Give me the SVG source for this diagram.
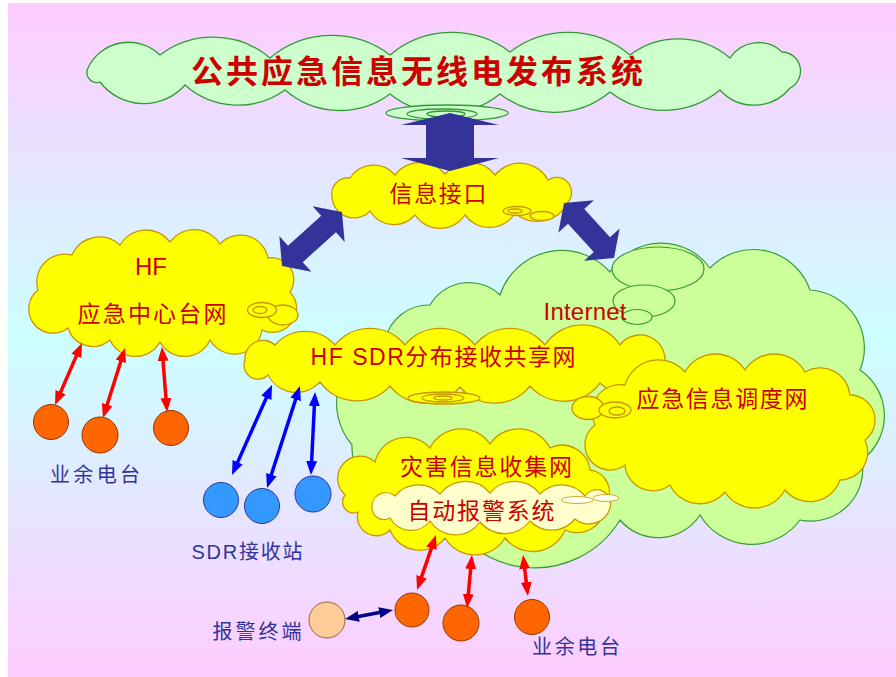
<svg xmlns="http://www.w3.org/2000/svg" width="896" height="677" viewBox="0 0 896 677">
<defs>
<linearGradient id="bg" x1="0" y1="0" x2="0" y2="1">
<stop offset="0" stop-color="#ffccff"/>
<stop offset="0.5" stop-color="#ccffff"/>
<stop offset="1" stop-color="#ffccff"/>
</linearGradient>
<marker id="mr" markerUnits="userSpaceOnUse" viewBox="0 0 14 11" markerWidth="14" markerHeight="11" refX="7" refY="5.5" orient="auto-start-reverse"><path d="M0,0 L14,5.5 L0,11 Z" fill="#ff0000"/></marker>
<marker id="mb" markerUnits="userSpaceOnUse" viewBox="0 0 14 11" markerWidth="14" markerHeight="11" refX="7" refY="5.5" orient="auto-start-reverse"><path d="M0,0 L14,5.5 L0,11 Z" fill="#0000ff"/></marker>
<marker id="mn" markerUnits="userSpaceOnUse" viewBox="0 0 14 11" markerWidth="14" markerHeight="11" refX="7" refY="5.5" orient="auto-start-reverse"><path d="M0,0 L14,5.5 L0,11 Z" fill="#000080"/></marker>
</defs>
<style>
.cy{fill:#ffff00;stroke:#c89600;stroke-width:1.3}
.cg{fill:#ccffcc;stroke:#339933;stroke-width:1.3}
.ci{fill:#ccff99;stroke:#3c9a3c;stroke-width:1.2}
.cl{fill:#ffffcc;stroke:#c89600;stroke-width:1.2}
.t{font-family:"Liberation Sans","Noto Sans CJK SC",sans-serif;fill:#cc0000;text-anchor:middle;font-size:23px}
.lb{font-family:"Liberation Sans","Noto Sans CJK SC",sans-serif;fill:#333399;text-anchor:middle;font-size:20px}
.big{fill:#333399}
.ar{fill:none;stroke-width:3.5}
.or{fill:#ff6600;stroke:#993300;stroke-width:1}
.bl{fill:#3399ff;stroke:#333399;stroke-width:1}
.pe{fill:#ffcc99;stroke:#996633;stroke-width:1}
</style>
<rect x="0" y="0" width="896" height="677" fill="#ffffff"/>
<rect x="8" y="3" width="888" height="674" fill="url(#bg)"/>

<g id="top-system">
<path class="cg" d="M88,68 A45,45 0 0 1 160,55 A88,88 0 0 1 270,58 A96,96 0 0 1 390,55 A96,96 0 0 1 510,52 A96,96 0 0 1 630,55 A80,80 0 0 1 730,58 A34,34 0 0 1 782,52 A19,19 0 0 1 790,88 A46,46 0 0 1 720,90 A88,88 0 0 1 610,92 A88,88 0 0 1 500,94 A88,88 0 0 1 390,94 A84,84 0 0 1 285,90 A80,80 0 0 1 185,85 A55,55 0 0 1 100,82 A10,10 0 0 1 88,68 Z"/>
<ellipse class="cg" cx="447" cy="113" rx="61" ry="8"/>
<ellipse class="cg" cx="442" cy="114" rx="35" ry="5"/>
<ellipse class="cg" cx="446" cy="114" rx="19" ry="3"/>
<text class="t" x="417" y="83" style="font-size:32px;font-weight:bold" textLength="452" lengthAdjust="spacing">公共应急信息无线电发布系统</text>
</g>

<g id="info-interface">
<path class="cy" d="M332,196 A16,16 0 0 1 350,178 A28,28 0 0 1 395,175 A32,32 0 0 1 445,174 A32,32 0 0 1 495,175 A32,32 0 0 1 548,180 A15,15 0 0 1 568,202 A34,34 0 0 1 515,213 A30,30 0 0 1 465,215 A30,30 0 0 1 415,215 A28,28 0 0 1 370,211 A22,22 0 0 1 332,196 Z"/>
<ellipse class="cy" cx="542" cy="216" rx="12" ry="4.5"/>
<ellipse class="cy" cx="517" cy="211" rx="14" ry="4.5"/>
<ellipse class="cy" cx="515" cy="211" rx="7" ry="2"/>
<text class="t" x="438" y="202" textLength="97" lengthAdjust="spacing">信息接口</text>
</g>

<g id="hf-center">
<path class="cy" d="M38,290 A28,28 0 0 1 72,255 A30,30 0 0 1 120,245 A30,30 0 0 1 170,242 A30,30 0 0 1 220,244 A28,28 0 0 1 268,258 A22,22 0 0 1 290,292 A24,24 0 0 1 262,330 A28,28 0 0 1 210,340 A28,28 0 0 1 160,342 A28,28 0 0 1 110,340 A26,26 0 0 1 68,328 A24,24 0 0 1 38,290 Z"/>
<ellipse class="cy" cx="283" cy="315" rx="15" ry="10"/>
<ellipse class="cy" cx="262" cy="310" rx="14.5" ry="7.5"/>
<ellipse class="cy" cx="260" cy="310" rx="7" ry="3.5"/>
<text class="t" x="151" y="275" style="font-size:24px">HF</text>
<text class="t" x="152" y="322" textLength="149" lengthAdjust="spacing">应急中心台网</text>
</g>

<g id="internet">
<path class="ci" d="M352,445 A65,65 0 0 1 385,340 A45,45 0 0 1 430,305 A45,45 0 0 1 500,295 A65,65 0 0 1 610,272 A60,60 0 0 1 710,268 A60,60 0 0 1 810,290 A58,58 0 0 1 860,370 A55,55 0 0 1 862,460 A52,52 0 0 1 800,520 A60,60 0 0 1 700,515 A50,50 0 0 1 620,520 A100,100 0 0 1 440,500 A60,60 0 0 1 352,445 Z"/>
<ellipse class="ci" cx="658" cy="269" rx="46" ry="22"/>
<ellipse class="ci" cx="644" cy="301" rx="31" ry="16"/>
<ellipse class="ci" cx="637" cy="317" rx="15" ry="7.5"/>
<text class="t" x="585" y="320" style="font-size:24px" textLength="83" lengthAdjust="spacing">Internet</text>
</g>

<g id="hf-sdr">
<path class="cy" d="M245,360 A18,18 0 0 1 275,345 A40,40 0 0 1 335,345 A45,45 0 0 1 405,345 A45,45 0 0 1 475,345 A45,45 0 0 1 545,345 A45,45 0 0 1 620,345 A25,25 0 0 1 660,375 A38,38 0 0 1 600,383 A45,45 0 0 1 530,386 A45,45 0 0 1 460,387 A45,45 0 0 1 390,386 A45,45 0 0 1 320,382 A32,32 0 0 1 268,375 A14,14 0 0 1 245,360 Z"/>
<ellipse class="cy" cx="444" cy="398" rx="36" ry="6"/>
<ellipse class="cy" cx="443" cy="398" rx="21" ry="4"/>
<ellipse class="cy" cx="443" cy="398" rx="9" ry="2"/>
<text class="t" x="443" y="365" textLength="265" lengthAdjust="spacing">HF SDR分布接收共享网</text>
</g>

<g id="dispatch">
<path class="cy" d="M595,425 A28,28 0 0 1 625,385 A35,35 0 0 1 685,372 A35,35 0 0 1 745,370 A35,35 0 0 1 805,372 A30,30 0 0 1 850,395 A25,25 0 0 1 865,440 A28,28 0 0 1 840,480 A32,32 0 0 1 785,490 A35,35 0 0 1 725,492 A33,33 0 0 1 670,485 A28,28 0 0 1 625,465 A25,25 0 0 1 595,425 Z"/>
<ellipse class="cy" cx="588" cy="408" rx="16" ry="11.5"/>
<ellipse class="cy" cx="615" cy="410" rx="16" ry="8"/>
<ellipse class="cy" cx="617" cy="411" rx="8" ry="4"/>
<text class="t" x="722" y="407" textLength="171" lengthAdjust="spacing">应急信息调度网</text>
</g>

<g id="disaster">
<path class="cy" d="M345,495 A20,20 0 0 1 375,462 A32,32 0 0 1 430,448 A35,35 0 0 1 490,444 A35,35 0 0 1 550,448 A28,28 0 0 1 590,470 A22,22 0 0 1 605,505 A28,28 0 0 1 565,530 A35,35 0 0 1 505,538 A35,35 0 0 1 445,538 A32,32 0 0 1 390,530 A19,19 0 0 1 358,512 A11,11 0 0 1 345,495 Z"/>
<text class="t" x="486" y="475" textLength="172" lengthAdjust="spacing">灾害信息收集网</text>
</g>

<g id="alarm-system">
<path class="cl" d="M372,508 A14,14 0 0 1 395,496 A30,30 0 0 1 440,494 A32,32 0 0 1 490,493 A32,32 0 0 1 540,494 A30,30 0 0 1 585,496 A14,14 0 0 1 610,508 A22,22 0 0 1 575,519 A30,30 0 0 1 530,521 A32,32 0 0 1 480,522 A30,30 0 0 1 430,521 A24,24 0 0 1 390,518 A12,12 0 0 1 372,508 Z"/>
<ellipse cx="577" cy="500" rx="16" ry="3.5" fill="#fffff0" stroke="#c89600" stroke-width="0.8"/>
<ellipse cx="606" cy="498" rx="13" ry="3.5" fill="#fffff0" stroke="#c89600" stroke-width="0.8"/>
<text class="t" x="481" y="519" textLength="147" lengthAdjust="spacing">自动报警系统</text>
</g>

<g id="amateur-left">
<circle class="or" cx="51" cy="422" r="17.5"/>
<circle class="or" cx="100" cy="435" r="18"/>
<circle class="or" cx="171" cy="428" r="17.5"/>
<text class="lb" x="95" y="482" textLength="90" lengthAdjust="spacing">业余电台</text>
</g>

<g id="sdr-stations">
<circle class="bl" cx="221" cy="500" r="17.5"/>
<circle class="bl" cx="262" cy="506" r="17.5"/>
<circle class="bl" cx="313" cy="494" r="18"/>
<text class="lb" x="247" y="559" textLength="111" lengthAdjust="spacing">SDR接收站</text>
</g>

<g id="alarm-terminal">
<circle class="pe" cx="327" cy="620" r="18"/>
<text class="lb" x="257" y="639" textLength="89" lengthAdjust="spacing">报警终端</text>
</g>

<g id="amateur-bottom">
<circle class="or" cx="412" cy="610" r="17"/>
<circle class="or" cx="461" cy="623" r="18"/>
<circle class="or" cx="532" cy="617" r="17.5"/>
<text class="lb" x="576" y="654" textLength="88" lengthAdjust="spacing">业余电台</text>
</g>

<g id="connectors">
<polygon class="big" points="450,113 499,125 474,125 474,158 499,158 450,171 401,158 426,158 426,125 401,125"/>
<polygon class="big" transform="translate(282,266) rotate(-42)" points="0,0 18,-24 18,-11 62.7,-11 62.7,-24 80.7,0 62.7,24 62.7,11 18,11 18,24"/>
<polygon class="big" transform="translate(564,203) rotate(47.7)" points="0,0 18,-24 18,-11 56.3,-11 56.3,-24 74.3,0 56.3,24 56.3,11 18,11 18,24"/>
<g stroke="#ff0000" class="ar">
<line x1="79.2" y1="349.4" x2="57.8" y2="398.6" marker-start="url(#mr)" marker-end="url(#mr)"/>
<line x1="122.9" y1="354.7" x2="105.1" y2="411.3" marker-start="url(#mr)" marker-end="url(#mr)"/>
<line x1="162.5" y1="354" x2="166.5" y2="405" marker-start="url(#mr)" marker-end="url(#mr)"/>
<line x1="433.7" y1="541.6" x2="419.3" y2="583.4" marker-start="url(#mr)" marker-end="url(#mr)"/>
<line x1="471.3" y1="562" x2="467.7" y2="601" marker-start="url(#mr)" marker-end="url(#mr)"/>
<line x1="523.9" y1="562" x2="527.1" y2="589" marker-start="url(#mr)" marker-end="url(#mr)"/>
</g>
<g stroke="#0000ff" class="ar">
<line x1="269.2" y1="391.4" x2="234.8" y2="468.6" marker-start="url(#mb)" marker-end="url(#mb)"/>
<line x1="297.8" y1="392.7" x2="269.2" y2="481.3" marker-start="url(#mb)" marker-end="url(#mb)"/>
<line x1="314.7" y1="399" x2="311.3" y2="468" marker-start="url(#mb)" marker-end="url(#mb)"/>
</g>
<line class="ar" stroke="#000080" x1="351.9" y1="617.7" x2="386.1" y2="611.3" marker-start="url(#mn)" marker-end="url(#mn)"/>
</g>
</svg>
